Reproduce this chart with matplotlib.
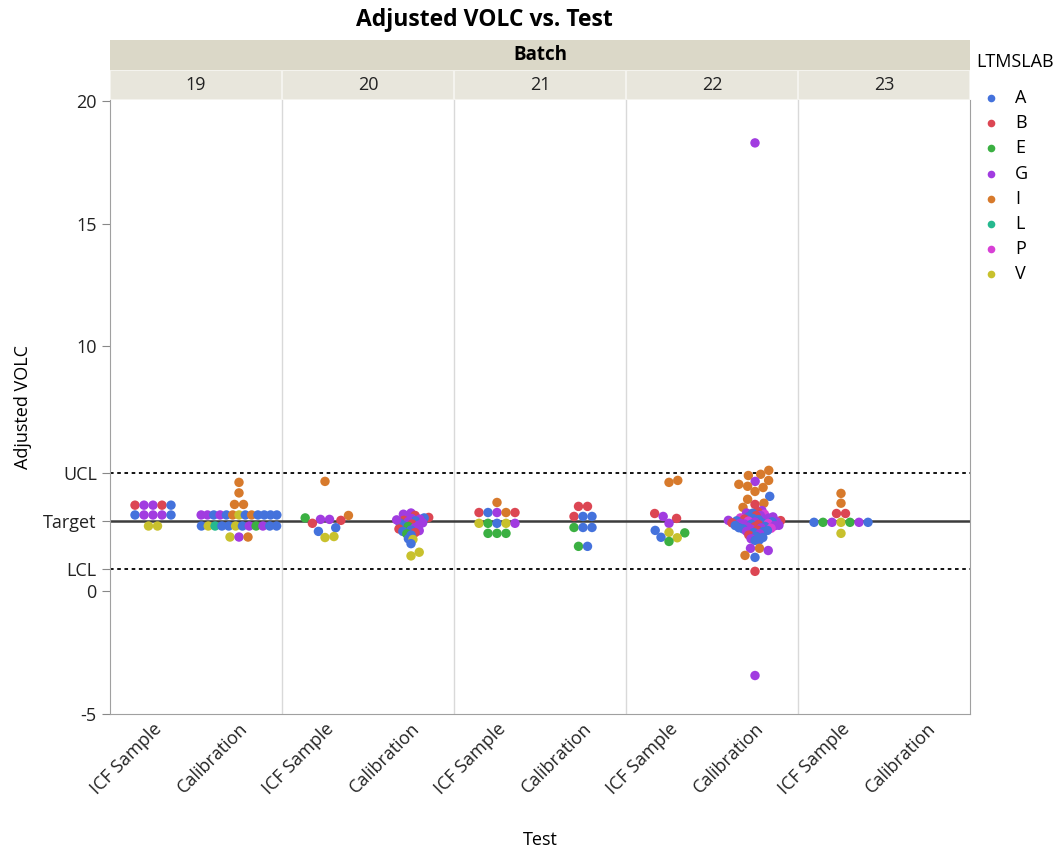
import numpy as np
import matplotlib.pyplot as plt
from matplotlib.lines import Line2D
from matplotlib.patches import Rectangle

plt.rcParams['font.family'] = ['Open Sans', 'DejaVu Sans']

# DATA
batches = ["19", "20", "21", "22", "23"]
tests = ["ICF Sample", "Calibration"]
labs = ["A", "B", "E", "G", "I", "L", "P", "V"]
lab_colors = ["#4472dc", "#dc4653", "#3bb042", "#a13ce0", "#d77a2c", "#26b98f", "#d840d6", "#c8c12d"]

lcl, target, ucl = 0.90, 2.87, 4.85

b19_icf_lab = "BGGBAAGGGAVV"
b19_icf_val = [3.52, 3.52, 3.52, 3.52, 3.52, 3.12, 3.12, 3.12, 3.12, 3.12, 2.67, 2.67]
b19_cal_lab = "IIII" + "GGAGAIVAIAAAA" + "AVLAAVAGEGAA" + "VGI"
b19_cal_val = [4.45, 4.02, 3.55, 3.55,
               3.12, 3.12, 3.12, 3.12, 3.12, 3.12, 3.12, 3.12, 3.12, 3.12, 3.12, 3.12, 3.12,
               2.67, 2.67, 2.67, 2.67, 2.67, 2.67, 2.67, 2.67, 2.67, 2.67, 2.67, 2.67,
               2.22, 2.22, 2.22]
b20_icf_lab = "IIBEGGBAAVV"
b20_icf_val = [4.49, 3.1, 2.9, 3.0, 2.94, 2.94, 2.78, 2.6, 2.45, 2.2, 2.24]
b20_cal_lab = "GGGBBAGGBAGGABGAEGBAGABEAAVAVVG"
b20_cal_val = [3.15, 3.2, 3.05, 3.1, 3.02, 3.0, 2.98, 2.95, 2.9, 2.88, 2.85, 2.8, 2.79, 2.75, 2.7,
               2.68, 2.65, 2.6, 2.55, 2.5, 2.48, 2.45, 2.4, 2.35, 2.3, 2.15, 2.12, 1.95, 1.6, 1.45, 2.92]
b21_icf_lab = "I" + "BAGIB" + "VEAVG" + "EEE"
b21_icf_val = [3.63, 3.22, 3.22, 3.22, 3.22, 3.22, 2.78, 2.78, 2.78, 2.78, 2.78, 2.37, 2.37, 2.37]
b21_cal_lab = "BB" + "BAA" + "EAA" + "EA"
b21_cal_val = [3.47, 3.47, 3.06, 3.06, 3.06, 2.61, 2.61, 2.61, 1.84, 1.84]
b22_icf_lab = "IIBBGGAAVEVE"
b22_icf_val = [4.45, 4.53, 3.18, 2.98, 3.06, 2.78, 2.49, 2.21, 2.41, 2.39, 2.19, 2.04]
b22_cal_lab = ("IIIIGIIIIAIIBI"
               "GBGAPGBAGPGABGAGBAPGAGBAGPGABGAGABGAGPAGBAGAAGBAAGA"
               "AGIGIABGG")
b22_cal_val = [4.94, 4.78, 4.73, 4.53, 4.49, 4.37, 4.29, 4.24, 4.08, 3.88, 3.76, 3.6, 3.55, 3.43,
               3.3, 3.25, 3.2, 3.19, 3.15, 3.1, 3.09, 3.05, 3.04, 3.0, 2.99, 2.98, 2.95, 2.94, 2.93,
               2.9, 2.89, 2.88, 2.87, 2.85, 2.84, 2.83, 2.8, 2.79, 2.78, 2.77, 2.75, 2.74, 2.73,
               2.7, 2.69, 2.68, 2.65, 2.64, 2.63, 2.6, 2.59, 2.58, 2.55, 2.54, 2.5, 2.49, 2.45,
               2.44, 2.4, 2.35, 2.3, 2.25, 2.2, 2.15, 2.1,
               2.08, 1.76, 1.76, 1.67, 1.47, 1.39, 0.82, 18.3, -3.43]
b23_icf_lab = "II" + "BB" + "AEGVEGA" + "V"
b23_icf_val = [4.0, 3.6, 3.18, 3.18, 2.82, 2.82, 2.82, 2.82, 2.82, 2.82, 2.82, 2.37]
b23_cal_lab = ""
b23_cal_val = []

group_labs = [b19_icf_lab, b19_cal_lab, b20_icf_lab, b20_cal_lab, b21_icf_lab,
              b21_cal_lab, b22_icf_lab, b22_cal_lab, b23_icf_lab, b23_cal_lab]
group_vals = [b19_icf_val, b19_cal_val, b20_icf_val, b20_cal_val, b21_icf_val,
              b21_cal_val, b22_icf_val, b22_cal_val, b23_icf_val, b23_cal_val]

# swarm spacing: normal dot spacing, and a tighter spacing inside a dense value band
dot_px = 9.0
dense_band = [None, None, None, (1.9, 3.25), None, None, None, (2.05, 3.35), None, None]
dense_px = [None, None, None, 4.6, None, None, None, 4.3, None, None]

# FIGURE
W, H = 1061, 847
fig = plt.figure(figsize=(W / 100, H / 100), dpi=100, facecolor="white")
x0, x1, ytop, ybot = 110, 970, 100, 714
ax = fig.add_axes([x0 / W, 1 - ybot / H, (x1 - x0) / W, (ybot - ytop) / H])
ax.set_xlim(-0.5, 9.5)
ax.set_ylim(-5, 20.05)


def swarm(vals, band, dpx, maxw=82):
    # place one group's points in pixel space: equal values -> centred rows, the rest avoid overlap
    v = np.asarray(vals, dtype=float)
    py = v * (ybot - ytop) / 25.05
    rad = np.full(len(v), dot_px / 2)
    if band is not None:
        rad[(v >= band[0]) & (v <= band[1])] = dpx / 2
    offs = np.zeros(len(py))
    placed = []
    uniq, counts = np.unique(py, return_counts=True)
    singles = []
    for u, c in zip(uniq, counts):
        idx = [i for i in range(len(py)) if py[i] == u]
        if c == 1:
            singles.append(idx[0])
            continue
        step = min(2 * rad[idx[0]], maxw / c)
        for k, i in enumerate(idx):
            offs[i] = (k - (c - 1) / 2) * step
            placed.append((offs[i], py[i], rad[i]))
    for i in singles:
        cands = [0.0]
        for (xj, yj, rj) in placed:
            d = rad[i] + rj
            dy = py[i] - yj
            if abs(dy) < d:
                dx = np.sqrt(d ** 2 - dy ** 2)
                cands += [xj + dx, xj - dx]
        cands.sort(key=abs)
        for cx in cands:
            if all((cx - xj) ** 2 + (py[i] - yj) ** 2 >= (rad[i] + rj) ** 2 - 1e-6
                   for (xj, yj, rj) in placed):
                offs[i] = cx
                break
        placed.append((offs[i], py[i], rad[i]))
    return offs / ((x1 - x0) / 10)


# batch separators
for b in range(1, len(batches)):
    ax.axvline(2 * b - 0.5, color="#d9d9d9", linewidth=1, zorder=0)

# control lines
ax.axhline(target, color="#3c3c3c", linewidth=1.8, zorder=1)
ax.axhline(ucl, color="black", linewidth=1.3, linestyle=(0, (2, 2)), zorder=1)
ax.axhline(lcl, color="black", linewidth=1.3, linestyle=(0, (2, 2)), zorder=1)

# points
for g in range(len(group_vals)):
    if len(group_vals[g]) == 0:
        continue
    offs = swarm(group_vals[g], dense_band[g], dense_px[g])
    cols = [lab_colors[labs.index(c)] for c in group_labs[g]]
    ax.scatter(g + offs, group_vals[g], s=46, c=cols, linewidths=0, zorder=3)

# axes styling
ax.set_xticks(range(len(batches) * len(tests)))
ax.set_xticklabels(tests * len(batches), rotation=45, ha="right", rotation_mode="anchor",
                   fontsize=13, color="#222222")
yt = [-5, 0, lcl, target, ucl, 10, 15, 20]
ax.set_yticks(yt)
ax.set_yticklabels(["-5", "0", "LCL", "Target", "UCL", "10", "15", "20"], fontsize=13, color="#222222")
ax.tick_params(axis="y", length=6, color="#888888")
ax.tick_params(axis="x", length=0, pad=4)
for s in ax.spines.values():
    s.set_color("#a0a0a0")
ax.spines["top"].set_visible(False)
ax.set_xlabel("Test", fontsize=13, labelpad=24)
ax.set_ylabel("Adjusted VOLC", fontsize=13, labelpad=8)

# strips
strip1 = fig.add_axes([x0 / W, 1 - 70 / H, (x1 - x0) / W, 30 / H])
strip1.set_xlim(0, 1)
strip1.set_ylim(0, 1)
strip1.axis("off")
strip1.add_patch(Rectangle((0, 0), 1, 1, facecolor="#dbd8c8", edgecolor="none"))
strip1.text(0.5, 0.5, "Batch", ha="center", va="center", fontsize=13.5, fontweight="bold")

strip2 = fig.add_axes([x0 / W, 1 - 100 / H, (x1 - x0) / W, 30 / H])
strip2.set_xlim(-0.5, 9.5)
strip2.set_ylim(0, 1)
strip2.axis("off")
for b, name in enumerate(batches):
    strip2.add_patch(Rectangle((2 * b - 0.5, 0), 2, 1, facecolor="#e8e6dc", edgecolor="#f4f3ee", linewidth=1.5))
    strip2.text(2 * b + 0.5, 0.5, name, ha="center", va="center", fontsize=13, color="#222222")

fig.text(484 / W, 1 - 20 / H, "Adjusted VOLC vs. Test", ha="center", va="center",
         fontsize=16.5, fontweight="bold")

# legend
fig.text(976 / W, 1 - 62 / H, "LTMSLAB", ha="left", va="center", fontsize=13)
for k, (lab, col) in enumerate(zip(labs, lab_colors)):
    yy = 1 - (98 + k * 25.2) / H
    fig.add_artist(Line2D([991 / W], [yy], marker="o", markersize=5.5, color=col,
                          markeredgewidth=0, transform=fig.transFigure))
    fig.text(1015 / W, yy, lab, ha="left", va="center", fontsize=13)

plt.savefig("out.png", dpi=100, facecolor=fig.get_facecolor())
